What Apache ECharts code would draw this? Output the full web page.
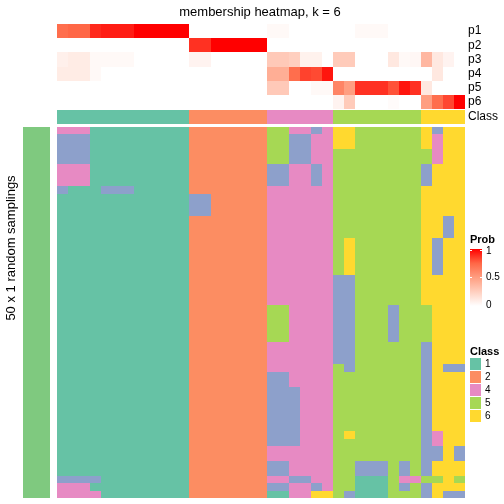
<!DOCTYPE html>
<html><head><meta charset="utf-8">
<script src="https://cdn.jsdelivr.net/npm/echarts@6/dist/echarts.min.js"></script>
<style>html,body{margin:0;padding:0;background:#fff}#c{width:504px;height:504px}</style>
</head><body><div id="c"></div>
<script>
// ---------- data ----------
const probNames = ['p1', 'p2', 'p3', 'p4', 'p5', 'p6'];
// membership probabilities per column (37 columns)
const p1 = [0.72,0.75,0.75,0.9,0.93,0.93,0.93,1,1,1,1,1, 0,0,0,0,0,0,0, 0.03,0.03,0,0,0,0, 0,0,0.03,0.03,0.03,0,0,0, 0,0,0,0];
const p2 = [0,0,0,0,0,0,0,0,0,0,0,0, 0.88,0.88,1,1,1,1,1, 0,0,0,0,0,0, 0,0,0,0,0,0,0,0, 0,0,0,0];
const p3 = [0.08,0.1,0.1,0.03,0.03,0.03,0.03,0,0,0,0,0, 0.06,0.06,0,0,0,0,0, 0.28,0.28,0.25,0.07,0.07,0, 0.27,0.27,0,0,0,0.12,0.03,0.04, 0.37,0.12,0.06,0];
const p4 = [0.1,0.1,0.1,0.03,0,0,0,0,0,0,0,0, 0,0,0,0,0,0,0, 0.42,0.42,0.72,0.84,0.82,0.95, 0,0,0,0,0,0,0,0, 0,0.12,0,0];
const p5 = [0,0,0,0,0,0,0,0,0,0,0,0, 0,0,0,0,0,0,0, 0.28,0.28,0,0,0.03,0.03, 0.62,0.5,0.88,0.88,0.88,0.8,0.95,0.88, 0.12,0,0,0];
const p6 = [0,0,0,0,0,0,0,0,0,0,0,0, 0,0,0,0,0,0,0, 0,0,0,0,0,0, 0.06,0.27,0,0,0,0.02,0,0, 0.5,0.72,0.83,1];
const classAnno = [1,1,1,1,1,1,1,1,1,1,1,1, 2,2,2,2,2,2,2, 4,4,4,4,4,4, 5,5,5,5,5,5,5,5, 6,6,6,6];
// 50 random samplings x 37 columns, class per cell
const samplingRows = [
  '444111111111 2222222 554434 66555555 6366',
  '333111111111 2222222 553344 66555555 6466',
  '333111111111 2222222 553344 66555555 6466',
  '333111111111 2222222 553344 55555555 5466',
  '333111111111 2222222 553344 55555555 5466',
  '444111111111 2222222 334434 55555555 3666',
  '444111111111 2222222 334434 55555555 3666',
  '444111111111 2222222 334434 55555555 3666',
  '311133311111 2222222 444444 55555555 6666',
  '111111111111 3322222 444444 55555555 6666',
  '111111111111 3322222 444444 55555555 6666',
  '111111111111 3322222 444444 55555555 6666',
  '111111111111 2222222 444444 55555555 6636',
  '111111111111 2222222 444444 55555555 6636',
  '111111111111 2222222 444444 55555555 6636',
  '111111111111 2222222 444444 56555555 6366',
  '111111111111 2222222 444444 56555555 6366',
  '111111111111 2222222 444444 56555555 6366',
  '111111111111 2222222 444444 56555555 6366',
  '111111111111 2222222 444444 56555555 6366',
  '111111111111 2222222 444444 33555555 6666',
  '111111111111 2222222 444444 33555555 6666',
  '111111111111 2222222 444444 33555555 6666',
  '111111111111 2222222 444444 33555555 6666',
  '111111111111 2222222 554444 33555355 5666',
  '111111111111 2222222 554444 33555355 5666',
  '111111111111 2222222 554444 33555355 5666',
  '111111111111 2222222 554444 33555355 5666',
  '111111111111 2222222 554444 33555355 5666',
  '111111111111 2222222 444444 33555555 3666',
  '111111111111 2222222 444444 33555555 3666',
  '111111111111 2222222 444444 33555555 3666',
  '111111111111 2222222 444444 53555555 3633',
  '111111111111 2222222 334444 55555555 3666',
  '111111111111 2222222 334444 55555555 3666',
  '111111111111 2222222 333444 55555555 3666',
  '111111111111 2222222 333444 55555555 3666',
  '111111111111 2222222 333444 55555555 3666',
  '111111111111 2222222 333444 55555555 3666',
  '111111111111 2222222 333444 55555555 3666',
  '111111111111 2222222 333444 55555555 3666',
  '111111111111 2222222 333444 56555555 3466',
  '111111111111 2222222 333444 55555555 3466',
  '111111111111 2222222 444444 55555555 3363',
  '111111111111 2222222 444444 55555555 3363',
  '111111111111 2222222 334444 55333535 3666',
  '111111111111 2222222 334444 55333535 3666',
  '333311111111 2222222 443344 55111544 5565',
  '444111111111 2222222 334434 55111535 3666',
  '444411111111 2222222 114466 53111555 3633'
];
const legendClasses = [1, 2, 4, 5, 6];
const probTicks = ['1', '0.5', '0'];

// ---------- styling ----------
const classColors = {1:'#66C2A5', 2:'#FC8D62', 3:'#8DA0CB', 4:'#E78AC3', 5:'#A6D854', 6:'#FFD92F'};
const probRamp = ['#FFFFFF', '#FFCFBF', '#FF9E81', '#FF6746', '#FF0000'];
const FONT = 'Liberation Sans, Arial, Helvetica, sans-serif';

const colIds = classAnno.map((_, i) => 'c' + i);
const rowIds = samplingRows.map((_, i) => 'r' + i);
const probArrays = [p1, p2, p3, p4, p5, p6];

const probData = [];
probArrays.forEach((arr, r) => arr.forEach((v, c) => probData.push([c, r, v])));
const classData = classAnno.map((v, c) => [c, 0, v]);
const mainData = [];
samplingRows.forEach((s, r) => {
  s.replace(/\s+/g, '').split('').forEach((ch, c) => mainData.push([c, r, +ch]));
});

const L = 57, W = 408;
const grids = [
  {left: L, top: 24, width: W, height: 85},
  {left: L, top: 110, width: W, height: 14},
  {left: L, top: 127, width: W, height: 371},
  {left: 23, top: 127, width: 27, height: 371}
];
// snap an edge to whole pixels, robust to tiny float differences
const snap = v => Math.round(Math.round(v * 1000) / 1000);
// cells drawn through the axes' scales, with shared pixel edges (no seams)
function renderCell(params, api) {
  const c = api.coord([api.value(0), api.value(1)]);
  const s = api.size([1, 1]);
  const hw = Math.abs(s[0]) / 2, hh = Math.abs(s[1]) / 2;
  const x0 = snap(c[0] - hw), x1 = snap(c[0] + hw);
  const y0 = snap(c[1] - hh), y1 = snap(c[1] + hh);
  return {type: 'rect', shape: {x: x0, y: y0, width: x1 - x0, height: y1 - y0},
    style: {fill: api.visual('color')}};
}
const cells = (gi, data) => ({
  type: 'custom', xAxisIndex: gi, yAxisIndex: gi, data, renderItem: renderCell,
  encode: {x: 0, y: 1}, silent: true, animation: false
});

const graphic = [];
const txt = (x, y, text, opt) => graphic.push(Object.assign({type: 'text', x, y, silent: true,
  style: Object.assign({text, fill: '#000', font: '12px ' + FONT, textVerticalAlign: 'middle'}, opt || {})}));
txt(260, 12, 'membership heatmap, k = 6', {font: '13px ' + FONT, textAlign: 'center'});
probNames.forEach((n, i) => txt(468, 24 + 85 / 6 * (i + 0.5), n));
txt(468, 117, 'Class');
// left titles
graphic.push({type: 'text', x: 11, y: 248, rotation: Math.PI / 2, silent: true,
  style: {text: '50 x 1 random samplings', font: '13px ' + FONT, fill: '#000', textAlign: 'center', textVerticalAlign: 'middle'}});
graphic.push({type: 'text', x: 37, y: 313, rotation: Math.PI / 2, silent: true,
  style: {text: 'top 1000 rows', font: '9px ' + FONT, fill: '#000', textAlign: 'center', textVerticalAlign: 'middle'}});
// Prob legend
txt(470, 240, 'Prob', {font: 'bold 11px ' + FONT});
graphic.push({type: 'rect', silent: true, shape: {x: 470, y: 249, width: 12, height: 57},
  style: {fill: new echarts.graphic.LinearGradient(0, 1, 0, 0,
    probRamp.map((c, i) => ({offset: i / (probRamp.length - 1), color: c})))}});
probTicks.forEach((t, i) => {
  const y = 249 + i * 28.5;
  txt(486, y + (i === 0 ? 2 : i === 2 ? -1 : 0), t, {font: '10px ' + FONT});
  if (i < 2) {
    const yy = y + (i === 0 ? 1.5 : 0);
    graphic.push({type: 'line', silent: true, shape: {x1: 470, y1: yy, x2: 472, y2: yy}, style: {stroke: '#fff', lineWidth: 1}});
    graphic.push({type: 'line', silent: true, shape: {x1: 480, y1: yy, x2: 482, y2: yy}, style: {stroke: '#fff', lineWidth: 1}});
  }
});
// Class legend
txt(470, 352, 'Class', {font: 'bold 11px ' + FONT});
legendClasses.forEach((k, i) => {
  const y = 358 + i * 13;
  graphic.push({type: 'rect', silent: true, shape: {x: 470, y, width: 11, height: 12}, style: {fill: classColors[k]}});
  txt(485, y + 6, String(k), {font: '10px ' + FONT});
});

const chart = echarts.init(document.getElementById('c'), null, {renderer: 'canvas'});
chart.setOption({
  animation: false,
  backgroundColor: '#fff',
  grid: grids,
  xAxis: grids.map((g, i) => ({type: 'category', gridIndex: i, show: false, data: i === 3 ? ['a'] : colIds})),
  yAxis: grids.map((g, i) => ({type: 'category', gridIndex: i, show: false, inverse: true,
    data: i === 0 ? probNames : i === 1 ? ['Class'] : i === 2 ? rowIds : ['a']})),
  visualMap: [
    {type: 'continuous', min: 0, max: 1, seriesIndex: 0, dimension: 2, show: false, inRange: {color: probRamp}},
    {type: 'piecewise', seriesIndex: [1, 2], dimension: 2, show: false,
      pieces: Object.keys(classColors).map(k => ({value: +k, color: classColors[k]}))},
    {type: 'piecewise', seriesIndex: 3, dimension: 2, show: false, pieces: [{value: 1, color: '#7FC97F'}]}
  ],
  series: [cells(0, probData), cells(1, classData), cells(2, mainData), cells(3, [[0, 0, 1]])],
  graphic
});
</script></body></html>
